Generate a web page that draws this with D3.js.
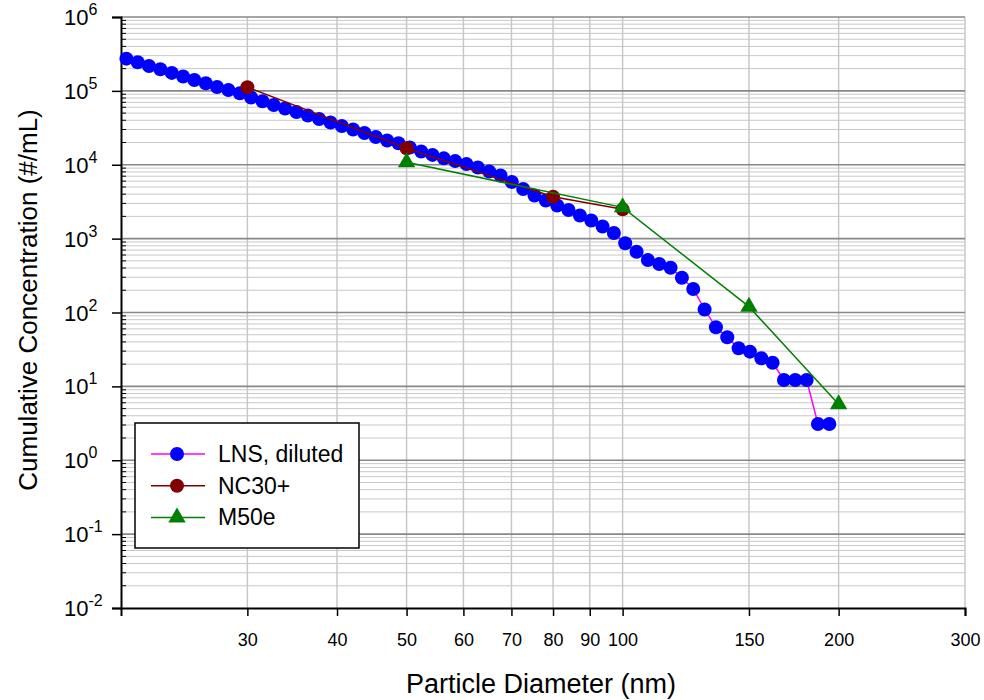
<!DOCTYPE html>
<html>
<head>
<meta charset="utf-8">
<script src="https://cdn.jsdelivr.net/npm/d3@7"></script>
<style>
  html, body { margin: 0; padding: 0; background: #fff; }
  svg { display: block; font-family: "Liberation Sans", Arial, sans-serif; }
</style>
</head>
<body>
<svg id="chart" width="984" height="700"></svg>
<script>
// LNS, diluted
const lnsDiameter = [20.35, 21.10, 21.88, 22.69, 23.54, 24.41, 25.31, 26.25, 27.22, 28.23,
    29.28, 30.36, 31.49, 32.65, 33.86, 35.12, 36.42, 37.77, 39.17, 40.62,
    42.12, 43.68, 45.30, 46.98, 48.72, 50.52, 52.40, 54.34, 56.35, 58.44,
    60.60, 62.85, 65.18, 67.59, 70.09, 72.69, 75.38, 78.17, 81.07, 84.07,
    87.19, 90.42, 93.77, 97.24, 100.84, 104.58, 108.45, 112.47, 116.64, 120.96,
    125.44, 130.09, 134.91, 139.91, 145.09, 150.47, 156.04, 161.82, 167.82, 174.04,
    180.49, 187.17, 194.11]
const lnsConc = [273000, 244000, 217000, 196000, 175000, 156500, 140400, 126600, 112900, 102700,
    92700, 81300, 72300, 64400, 57700, 51800, 46400, 41600, 37300, 33500,
    30000, 26900, 23800, 21300, 19500, 17100, 15100, 13600, 12200, 11200,
    10200, 9180, 8100, 7150, 5840, 4700, 3840, 3280, 2810, 2440,
    2060, 1760, 1460, 1190, 864, 665, 514, 453, 404, 296,
    208, 110, 63.0, 46.2, 32.8, 29.5, 24.0, 20.9, 12.2, 12.2,
    12.2, 3.09, 3.09]

// NC30+
const ncDiameter = [30, 50, 80, 100]
const ncConc = [112000, 16700, 3690, 2490]

// M50e
const mDiameter = [50, 100, 150, 200]
const mConc = [10800, 2650, 120, 5.72]

const xTickValues = [30, 40, 50, 60, 70, 80, 90, 100, 150, 200, 300]
const xGridValues = [30, 40, 50, 60, 70, 80, 90, 100, 150, 200, 300]
const yExponents = [6, 5, 4, 3, 2, 1, 0, -1, -2]

let margin = ({top: 17, right: 19, bottom: 92, left: 121})
let width = 984
let height = 700

const svg = d3.select("#chart")

let x = d3.scaleLog()
    .domain([20, 300])
    .range([margin.left, width - margin.right])
let y = d3.scaleLog()
    .domain([1e-2, 1e6])
    .range([height - margin.bottom, margin.top])

// minor horizontal grid (2..9 of each decade)
let minorY = []
for (let e = -2; e < 6; e++) {
    for (let k = 2; k <= 9; k++) minorY.push(k * Math.pow(10, e))
}
svg.append("g")
    .selectAll("line")
    .data(minorY)
    .join("line")
    .attr("x1", margin.left).attr("x2", width - margin.right)
    .attr("y1", d => y(d)).attr("y2", d => y(d))
    .attr("stroke", "#c8c8c8")
    .attr("stroke-width", 1)

// vertical grid
svg.append("g")
    .selectAll("line")
    .data(xGridValues)
    .join("line")
    .attr("x1", d => x(d)).attr("x2", d => x(d))
    .attr("y1", margin.top).attr("y2", height - margin.bottom)
    .attr("stroke", "#c8c8c8")
    .attr("stroke-width", 1.5)

// major horizontal grid
svg.append("g")
    .selectAll("line")
    .data(yExponents.filter(e => e > -2))
    .join("line")
    .attr("x1", margin.left).attr("x2", width - margin.right)
    .attr("y1", e => y(Math.pow(10, e))).attr("y2", e => y(Math.pow(10, e)))
    .attr("stroke", "#888")
    .attr("stroke-width", 1.6)

// minor ticks on y axis (inside)
svg.append("g")
    .selectAll("line")
    .data(minorY)
    .join("line")
    .attr("x1", margin.left).attr("x2", margin.left + 5)
    .attr("y1", d => y(d)).attr("y2", d => y(d))
    .attr("stroke", "#000")
    .attr("stroke-width", 1)

// axes
let xAxis = g => g
    .attr("transform", `translate(0,${height - margin.bottom})`)
    .call(d3.axisBottom(x).tickValues(xTickValues).tickFormat(d3.format("d")).tickSize(8).tickPadding(17))
    .call(g => g.select(".domain").attr("stroke-width", 2))
    .call(g => g.selectAll(".tick line").attr("stroke-width", 1.5))
    .call(g => g.selectAll(".tick text").attr("font-size", 18).attr("fill", "#000")
        .attr("font-family", "Liberation Sans, Arial, sans-serif"))

let yAxis = g => g
    .attr("transform", `translate(${margin.left},0)`)
    .call(d3.axisLeft(y).tickValues(yExponents.map(e => Math.pow(10, e))).tickSize(9).tickFormat(""))
    .call(g => g.select(".domain").attr("stroke-width", 2))
    .call(g => g.selectAll(".tick line").attr("stroke-width", 1.5))

svg.append("g").call(xAxis)
svg.append("g").call(yAxis)

// y tick labels with superscript exponents
let ylab = svg.append("g")
    .attr("font-size", 22)
    .selectAll("text")
    .data(yExponents)
    .join("text")
    .attr("x", 64)
    .attr("y", e => y(Math.pow(10, e)) + 8)
ylab.append("tspan").text("10")
ylab.append("tspan")
    .attr("font-size", 16)
    .attr("dy", -10)
    .text(e => e)

// series lines
let line = d3.line().x(d => x(d[0])).y(d => y(d[1]))

svg.append("path")
    .datum(lnsDiameter.map((d, i) => [d, lnsConc[i]]))
    .attr("fill", "none").attr("stroke", "#ff00ff").attr("stroke-width", 1.5)
    .attr("d", line)
svg.append("g")
    .selectAll("circle")
    .data(lnsDiameter.map((d, i) => [d, lnsConc[i]]))
    .join("circle")
    .attr("cx", d => x(d[0])).attr("cy", d => y(d[1]))
    .attr("r", 7)
    .attr("fill", "#0000ff")

svg.append("path")
    .datum(ncDiameter.map((d, i) => [d, ncConc[i]]))
    .attr("fill", "none").attr("stroke", "#800000").attr("stroke-width", 1.5)
    .attr("d", line)
svg.append("g")
    .selectAll("circle")
    .data(ncDiameter.map((d, i) => [d, ncConc[i]]))
    .join("circle")
    .attr("cx", d => x(d[0])).attr("cy", d => y(d[1]))
    .attr("r", 7)
    .attr("fill", "#800000")

let tri = d3.symbol().type(d3.symbolTriangle).size(130)
svg.append("path")
    .datum(mDiameter.map((d, i) => [d, mConc[i]]))
    .attr("fill", "none").attr("stroke", "#008000").attr("stroke-width", 1.5)
    .attr("d", line)
svg.append("g")
    .selectAll("path")
    .data(mDiameter.map((d, i) => [d, mConc[i]]))
    .join("path")
    .attr("transform", d => `translate(${x(d[0])},${y(d[1])})`)
    .attr("d", tri)
    .attr("fill", "#008000")

// legend
const legendItems = [
    {name: "LNS, diluted", line: "#ff00ff", fill: "#0000ff", shape: "circle"},
    {name: "NC30+", line: "#800000", fill: "#800000", shape: "circle"},
    {name: "M50e", line: "#008000", fill: "#008000", shape: "triangle"}
]
let legend = svg.append("g")
legend.append("rect")
    .attr("x", 135).attr("y", 423)
    .attr("width", 224).attr("height", 125)
    .attr("fill", "#fff").attr("stroke", "#000").attr("stroke-width", 1.5)
let li = legend.selectAll("g.item")
    .data(legendItems)
    .join("g")
    .attr("class", "item")
    .attr("transform", (d, i) => `translate(0,${454 + i * 31.7})`)
li.append("line")
    .attr("x1", 151).attr("x2", 205)
    .attr("stroke", d => d.line).attr("stroke-width", 1.5)
li.filter(d => d.shape === "circle").append("circle")
    .attr("cx", 177).attr("r", 7).attr("fill", d => d.fill)
li.filter(d => d.shape === "triangle").append("path")
    .attr("transform", "translate(177,0)")
    .attr("d", tri).attr("fill", d => d.fill)
li.append("text")
    .attr("x", 218).attr("y", 8)
    .attr("font-size", 23)
    .text(d => d.name)

// axis titles
svg.append("text")
    .attr("x", 541).attr("y", 693)
    .attr("text-anchor", "middle")
    .attr("font-size", 27)
    .text("Particle Diameter (nm)")
svg.append("text")
    .attr("transform", "translate(37,300) rotate(-90)")
    .attr("text-anchor", "middle")
    .attr("font-size", 26)
    .text("Cumulative Concentration (#/mL)")
</script>
</body>
</html>
